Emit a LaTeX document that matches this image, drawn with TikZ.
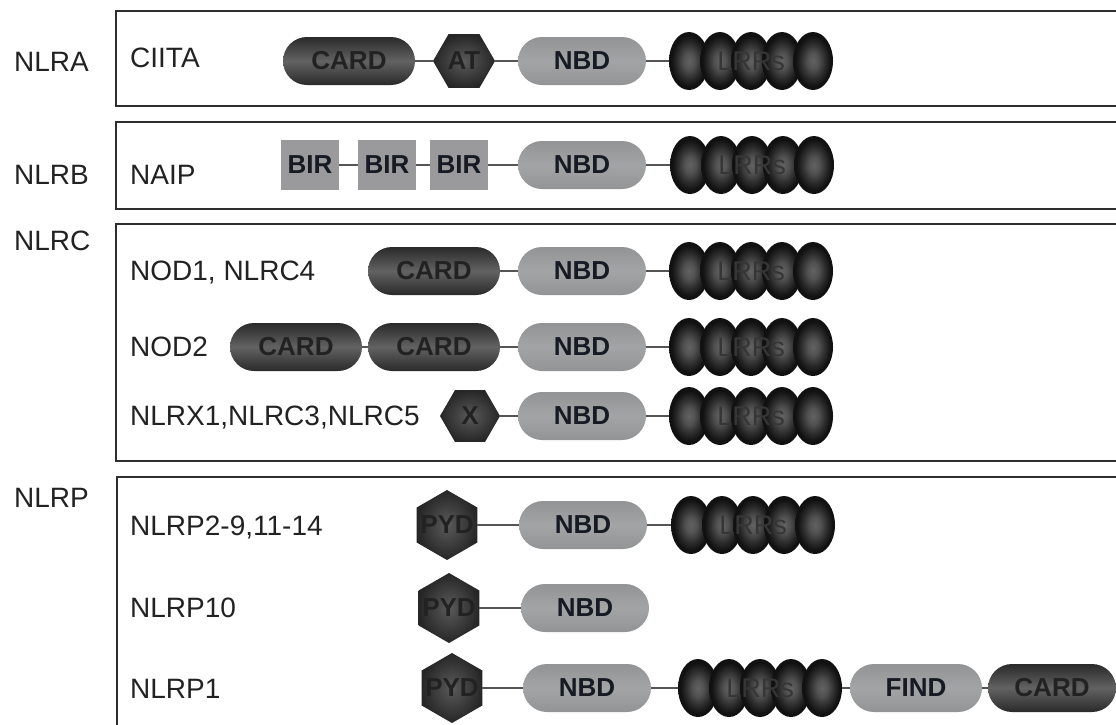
\documentclass[tikz,border=0pt]{standalone}
\usepackage{fontspec}
\setmainfont{Liberation Sans}
\definecolor{boxline}{HTML}{2E2E2E}
\definecolor{labelc}{HTML}{222222}
\definecolor{carddark}{HTML}{2A2A2A}
\definecolor{cardmid}{HTML}{626262}
\definecolor{cardtext}{HTML}{222222}
\definecolor{nbdgray}{HTML}{A2A4A6}
\definecolor{birgray}{HTML}{9A9A9C}
\definecolor{domtext}{HTML}{161A22}
\definecolor{hexin}{HTML}{5A5A5A}
\definecolor{hexout}{HTML}{262626}
\definecolor{linkc}{HTML}{555555}
\definecolor{lrrin}{HTML}{626262}
\definecolor{lrrout}{HTML}{111111}
\definecolor{lrrtextc}{HTML}{363636}
\pgfdeclareradialshading{lrrshade}{\pgfpoint{0bp}{0bp}}{%
  color(0bp)=(lrrin); color(7bp)=(lrrin!80!lrrout); color(15bp)=(lrrin!35!lrrout);
  color(22bp)=(lrrout); color(50bp)=(lrrout)}
\tikzset{
  lbl/.style={anchor=base west, font=\fontsize{28}{30}\selectfont, text=labelc, inner sep=0},
  dom/.style={font=\bfseries\fontsize{26}{28}\selectfont, inner sep=0, minimum height=48},
  card/.style={dom, rectangle, rounded corners=24, minimum width=132,
    top color=carddark, bottom color=carddark, middle color=cardmid, text=cardtext},
  nbd/.style={dom, rectangle, rounded corners=24, minimum width=128,
    top color=nbdgray!90!black, bottom color=nbdgray!90!black, middle color=nbdgray, text=domtext},
  bir/.style={dom, rectangle, minimum width=58, minimum height=50, fill=birgray, text=domtext},
  hextext/.style={dom, rectangle, text=cardtext},
  hexshade/.style={inner color=hexin, outer color=hexout},
  lrrtext/.style={rectangle, inner sep=0, minimum width=164, minimum height=58,
    font=\fontsize{27}{28}\selectfont, text=lrrtextc},
  link/.style={draw=linkc, line width=2},
  fambox/.style={draw=boxline, line width=2},
}
% LRR repeat: name, x, y
\newcommand\lrrset[3]{%
  \foreach \k in {0,...,4} {
    \shade[shading=lrrshade] ({#2-62+31*\k},#3) ellipse (20 and 29);
  }
  \node[lrrtext] (#1) at (#2,#3) {LRRs};
}
% hexagon domain: name, x, y, circumradius, start angle, text width, text
\newcommand\hexdom[7]{%
  \shade[hexshade] ([shift={(#2,#3)}]#5:#4) -- ([shift={(#2,#3)}]#5+60:#4)
    -- ([shift={(#2,#3)}]#5+120:#4) -- ([shift={(#2,#3)}]#5+180:#4)
    -- ([shift={(#2,#3)}]#5+240:#4) -- ([shift={(#2,#3)}]#5+300:#4) -- cycle;
  \node[hextext, minimum width=#6] (#1) at (#2,#3) {#7};
}
\begin{document}
\begin{tikzpicture}[x=1pt,y=-1pt]
\clip (0,0) rectangle (1116,724);
\fill[white] (0,0) rectangle (1116,724);

% family boxes
\draw[fambox] (116,11) rectangle (1140,106);
\draw[fambox] (116,122) rectangle (1140,209);
\draw[fambox] (116,224) rectangle (1140,461);
\draw[fambox] (117,477) rectangle (1140,760);

% family labels
\node[lbl] (fA) at (14,71) {NLRA};
\node[lbl] (fB) at (14,184) {NLRB};
\node[lbl] (fC) at (14,250) {NLRC};
\node[lbl] (fP) at (14,507) {NLRP};

% member labels
\node[lbl] (mA) at (130,67) {CIITA};
\node[lbl] (mB) at (130,184) {NAIP};
\node[lbl] (mC1) at (130,280) {NOD1, NLRC4};
\node[lbl] (mC2) at (130,356) {NOD2};
\node[lbl] (mC3) at (130,425) {NLRX1,NLRC3,NLRC5};
\node[lbl] (mP1) at (130,535) {NLRP2-9,11-14};
\node[lbl] (mP2) at (130,617) {NLRP10};
\node[lbl] (mP3) at (130,698) {NLRP1};

% ---- CIITA row
\node[card] (a1) at (349,61) {CARD};
\hexdom{a2}{464}{61}{31}{0}{62}{AT}
\node[nbd] (a3) at (582,61) {NBD};
\lrrset{a4}{751}{61}
\draw[link] (a1.east) -- (a2.west);
\draw[link] (a2.east) -- (a3.west);
\draw[link] (a3.east) -- (a4.west);

% ---- NAIP row
\node[bir] (b1) at (310,165) {BIR};
\node[bir] (b2) at (387,165) {BIR};
\node[bir] (b3) at (459,165) {BIR};
\node[nbd] (b4) at (582,165) {NBD};
\lrrset{b5}{752}{165}
\draw[link] (b1.east) -- (b2.west);
\draw[link] (b2.east) -- (b3.west);
\draw[link] (b3.east) -- (b4.west);
\draw[link] (b4.east) -- (b5.west);

% ---- NOD1, NLRC4 row
\node[card] (c1) at (434,271) {CARD};
\node[nbd] (c2) at (582,271) {NBD};
\lrrset{c3}{751}{271}
\draw[link] (c1.east) -- (c2.west);
\draw[link] (c2.east) -- (c3.west);

% ---- NOD2 row
\node[card] (d1) at (296,347) {CARD};
\node[card] (d2) at (434,347) {CARD};
\node[nbd] (d3) at (582,347) {NBD};
\lrrset{d4}{751}{347}
\draw[link] (d1.east) -- (d2.west);
\draw[link] (d2.east) -- (d3.west);
\draw[link] (d3.east) -- (d4.west);

% ---- NLRX1 row
\hexdom{e1}{470}{416}{30}{0}{60}{X}
\node[nbd] (e2) at (582,416) {NBD};
\lrrset{e3}{751}{416}
\draw[link] (e1.east) -- (e2.west);
\draw[link] (e2.east) -- (e3.west);

% ---- NLRP2-9,11-14 row
\hexdom{f1}{447}{525}{35}{30}{60}{PYD}
\node[nbd] (f2) at (583,525) {NBD};
\lrrset{f3}{753}{525}
\draw[link] (f1.east) -- (f2.west);
\draw[link] (f2.east) -- (f3.west);

% ---- NLRP10 row
\hexdom{g1}{449}{608}{35}{30}{60}{PYD}
\node[nbd] (g2) at (585,608) {NBD};
\draw[link] (g1.east) -- (g2.west);

% ---- NLRP1 row
\hexdom{h1}{452}{688}{35}{30}{60}{PYD}
\node[nbd] (h2) at (587,688) {NBD};
\lrrset{h3}{760}{688}
\node[nbd, minimum width=132] (h4) at (916,688) {FIND};
\node[card, minimum width=128] (h5) at (1052,688) {CARD};
\draw[link] (h1.east) -- (h2.west);
\draw[link] (h2.east) -- (h3.west);
\draw[link] (h3.east) -- (h4.west);
\draw[link] (h4.east) -- (h5.west);
\end{tikzpicture}
\end{document}
